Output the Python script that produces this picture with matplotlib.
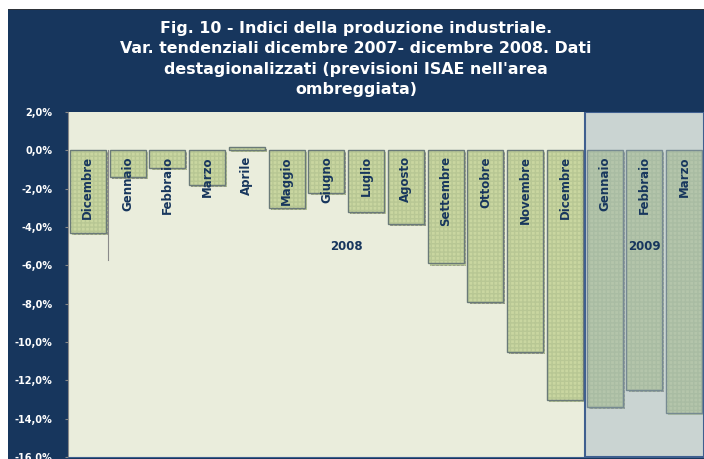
import matplotlib
matplotlib.use("Agg")
import matplotlib.pyplot as plt
import matplotlib.patheffects as pe
from matplotlib.patches import Rectangle
import numpy as np

months = ["Dicembre", "Gennaio", "Febbraio", "Marzo", "Aprile", "Maggio", "Giugno",
          "Luglio", "Agosto", "Settembre", "Ottobre", "Novembre", "Dicembre",
          "Gennaio", "Febbraio", "Marzo"]
values = [-4.3, -1.4, -0.9, -1.8, 0.2, -3.0, -2.2, -3.2, -3.85, -5.9, -7.9, -10.5,
          -13.0, -13.4, -12.5, -13.7]
forecast_start = 13  # first month of the shaded ISAE forecast area
yticks = [2, 0, -2, -4, -6, -8, -10, -12, -14, -16]
title = ("Fig. 10 - Indici della produzione industriale.\n"
         "Var. tendenziali dicembre 2007- dicembre 2008. Dati\n"
         "destagionalizzati (previsioni ISAE nell'area\n"
         "ombreggiata)")
year_labels = ["2008", "2009"]
year_pos = [6.5, 14]
year_y = -5.0
stray_line = (0.5, 0.0, -5.7)

NAVY = "#17365D"
fig = plt.figure(figsize=(7.04, 4.59), dpi=100, facecolor="white")
fig.patches.append(Rectangle((8 / 704, 0), 1, 1 - 9 / 459, transform=fig.transFigure,
                             facecolor=NAVY, edgecolor="none", zorder=-5))
fig.add_artist(plt.Line2D([8 / 704, 1], [1 - 9 / 459] * 2, color="#333333", lw=0.6, zorder=-4))

ax = fig.add_axes([68 / 704, 0.004, 1 - 68 / 704, 0.752])
ax.set_zorder(2)
ax.set_facecolor("#EAEDDC")

x = np.arange(len(values))
ax.bar(x, values, width=0.9, color="#C9D6A0", edgecolor="#B8C794", linewidth=0,
       hatch="++++", zorder=2,
       path_effects=[pe.SimplePatchShadow(offset=(1.5, -1.5), shadow_rgbFace="#555555", alpha=0.6),
                     pe.Normal()])
ax.bar(x, values, width=0.9, color="none", edgecolor="#6A7A78", linewidth=1.0, zorder=3)

ax.plot([stray_line[0]] * 2, [stray_line[1], stray_line[2]], color="#8A8A8A", lw=0.8, zorder=1)

# shaded forecast area
ax.add_patch(Rectangle((forecast_start - 0.5, -16), len(values) - forecast_start, 18,
                       facecolor="#8FA8C0", alpha=0.35, edgecolor="none", zorder=4))
ax.add_patch(Rectangle((forecast_start - 0.5, -16), len(values) - forecast_start, 18,
                       facecolor="none", edgecolor="#3F5F8F", linewidth=1.5, zorder=5))

for xi, name in zip(x, months):
    ax.text(xi, -0.3, name, rotation=90, ha="center", va="top", fontsize=8.5,
            fontweight="bold", color=NAVY, zorder=6)

for lab, px in zip(year_labels, year_pos):
    ax.text(px, year_y, lab, ha="center", va="center", fontsize=8.5,
            fontweight="bold", color=NAVY, zorder=6)

ax.set_xlim(-0.5, len(values) - 0.5)
ax.set_ylim(-16, 2)
ax.set_yticks(yticks)
ax.set_yticklabels([f"{v:.1f}%".replace(".", ",") for v in yticks], color="white",
                   fontsize=7, fontweight="bold")
ax.tick_params(axis="y", length=2, color="#888888", pad=9)
ax.set_xticks([])
for s in ["top", "right"]:
    ax.spines[s].set_visible(False)
ax.spines["left"].set_color("#888888")
ax.spines["bottom"].set_color("#3F5F8F")

fig.text(356 / 704, 1 - 21 / 459, title, ha="center", va="top", fontsize=11.4,
         fontweight="bold", color="white", linespacing=1.45)

fig.savefig("out.png", dpi=100, facecolor="white")
